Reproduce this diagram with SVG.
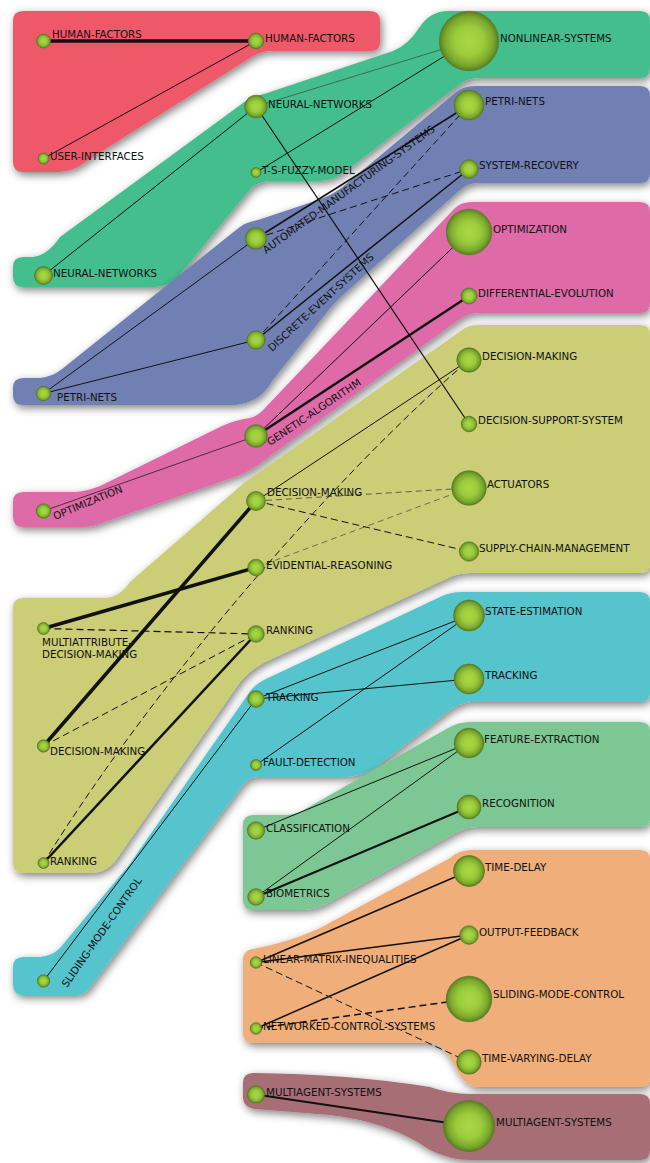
<svg xmlns="http://www.w3.org/2000/svg" width="650" height="1163" viewBox="0 0 650 1163">
<defs>
<radialGradient id="ng" cx="50%" cy="50%" r="50%">
<stop offset="0" stop-color="#A9DA45"/>
<stop offset="0.5" stop-color="#9ACB3B"/>
<stop offset="0.82" stop-color="#7BA82D"/>
<stop offset="1" stop-color="#587F22"/>
</radialGradient>
<filter id="sh" x="-10%" y="-10%" width="130%" height="130%">
<feDropShadow dx="2" dy="3" stdDeviation="4" flood-color="#000" flood-opacity="0.5"/>
</filter>
</defs>
<style>
.band{filter:url(#sh)}
.n{fill:url(#ng);stroke:#557822;stroke-width:0.7}
.t{font-family:"DejaVu Sans",Verdana,sans-serif;font-size:10.3px;fill:#111}
.e{stroke:#111;fill:none;stroke-width:1}
.d{stroke-dasharray:7,4}
.g{stroke:#444;stroke-width:0.8;stroke-dasharray:6,4}
.w35{stroke-width:3.5}
.w25{stroke-width:2.5}
.w2{stroke-width:2}
.w15{stroke-width:1.5}
.w12{stroke-width:1.2}
.w07{stroke-width:0.7}
.w06{stroke-width:0.6;stroke:#333}
</style>
<rect width="650" height="1163" fill="#fff"/>
<g id="bands">
<path id="band-red" class="band" fill="#EF5869" d="M13,21 Q13,11 23,11 H370 Q380,11 380,21 V42 Q380,51 371,51 H272 Q260,51 250,58 L88,160 Q74,172 58,172 H23 Q13,172 13,162 Z"/>
<path id="band-green" class="band" fill="#45BE8E" d="M13,267 Q13,257 23,257 H32 Q47,256 60,237 L243,103 Q252,96 264,94 L393,51 Q408,45 419,28 Q430,11 448,11 H640 Q650,11 650,21 V68 Q650,78 640,78 H478 Q468,78 460,84 L342,174 Q333,180 320,181 H268 Q255,182 247,193 L182,272 Q172,287 152,287 H23 Q13,287 13,277 Z"/>
<path id="band-blue" class="band" fill="#7080B3" d="M13,388 Q13,378 23,378 H40 Q52,377 62,369 L236,230 Q245,222 258,220 L318,200 Q333,195 345,185 L455,93 Q463,86 475,86 H640 Q650,86 650,96 V173 Q650,183 640,183 H478 Q468,183 460,190 L343,295 Q334,303 328,311 L272,381 Q260,403 235,405 H23 Q13,405 13,395 Z"/>
<path id="band-pink" class="band" fill="#DE6BA8" d="M13,502 Q13,492 23,492 H75 Q88,491 100,486 L222,426 Q235,420 250,418 Q258,416 265,408 L455,208 Q461,202 472,202 H640 Q650,202 650,212 V303 Q650,313 640,313 H478 Q468,313 460,319 L255,467 Q245,474 232,478 L105,522 Q95,527 80,527 H23 Q13,527 13,517 Z"/>
<path id="band-olive" class="band" fill="#CBCD77" d="M13,608 Q13,598 23,598 H105 Q120,597 130,582 L245,482 L465,328 Q470,325 478,325 H640 Q650,325 650,335 V563 Q650,573 640,573 H470 Q458,573 448,578 L265,662 Q250,670 240,682 L118,857 Q108,873 90,873 H23 Q13,873 13,863 Z"/>
<path id="band-cyan" class="band" fill="#55C4CC" d="M13,967 Q13,957 23,957 H40 Q52,956 60,948 L129,865 L251,690 Q258,682 268,678 L440,597 Q450,592 462,592 H640 Q650,592 650,602 V692 Q650,702 640,702 H470 Q460,703 450,710 L385,760 Q370,777 340,777 H258 Q248,777 242,786 L88,990 Q83,995 75,995 H23 Q13,995 13,985 Z"/>
<path id="band-lgreen" class="band" fill="#7DC794" d="M243,825 Q243,815 253,815 H285 Q297,815 307,808 L448,728 Q458,722 470,722 H640 Q650,722 650,732 V817 Q650,827 640,827 H478 Q467,827 457,832 L333,900 Q318,910 300,910 H253 Q243,910 243,900 Z"/>
<path id="band-orange" class="band" fill="#F0AE7A" d="M243,960 Q243,950 253,949 Q290,942 320,928 L450,858 Q459,850 472,850 H640 Q650,850 650,860 V1077 Q650,1087 640,1087 H480 Q468,1087 461,1077 L450,1058 Q442,1043 425,1043 H253 Q243,1043 243,1033 Z"/>
<path id="band-mauve" class="band" fill="#A86E76" d="M243,1083 Q243,1073 253,1073 Q350,1074 430,1087 Q450,1094 470,1094 H640 Q650,1094 650,1104 V1150 Q650,1160 640,1160 H470 Q450,1160 430,1150 Q390,1122 330,1115 L255,1109 Q243,1107 243,1097 Z"/>
</g>
<g id="connectors">
<line class="e w35" x1="43.5" y1="41" x2="256" y2="41"/>
<line class="e" x1="43.5" y1="158.5" x2="256" y2="41"/>
<line class="e" x1="43.5" y1="275.5" x2="256" y2="106.5"/>
<line class="e w06" x1="256" y1="106.5" x2="469" y2="41"/>
<line class="e" x1="256" y1="172.5" x2="469" y2="41"/>
<line class="e w12" x1="256" y1="106.5" x2="469" y2="424"/>
<line class="e" x1="43.5" y1="393.5" x2="256" y2="238.5"/>
<line class="e" x1="43.5" y1="393.5" x2="256" y2="340"/>
<line class="e w15" x1="256" y1="238.5" x2="469" y2="105"/>
<line class="e d" x1="256" y1="238.5" x2="469" y2="169"/>
<line class="e d" x1="256" y1="340" x2="469" y2="105"/>
<line class="e w15" x1="256" y1="340" x2="469" y2="169"/>
<line class="e w07" x1="43.5" y1="511" x2="256" y2="436"/>
<line class="e" x1="256" y1="436" x2="469" y2="232"/>
<line class="e w25" x1="256" y1="436" x2="469" y2="296"/>
<line class="e" x1="256" y1="501" x2="469" y2="360"/>
<line class="e g" x1="256" y1="501" x2="469" y2="488"/>
<line class="e d" x1="256" y1="501" x2="469" y2="551.5"/>
<line class="e g w07" x1="256" y1="567.5" x2="469" y2="488"/>
<path class="e d" d="M43.5,863 C150,690 330,480 469,360"/>
<line class="e w35" x1="43.5" y1="628.5" x2="256" y2="567.5"/>
<line class="e d w12" x1="43.5" y1="628.5" x2="256" y2="634"/>
<line class="e w35" x1="43.5" y1="746" x2="256" y2="501"/>
<line class="e d" x1="43.5" y1="746" x2="256" y2="634"/>
<line class="e w25" x1="43.5" y1="863" x2="256" y2="634"/>
<line class="e" x1="43.5" y1="981" x2="256" y2="699"/>
<line class="e" x1="256" y1="699" x2="469" y2="615.5"/>
<line class="e w12" x1="256" y1="699" x2="469" y2="679"/>
<line class="e" x1="256" y1="765" x2="469" y2="615.5"/>
<line class="e" x1="256" y1="830.5" x2="469" y2="743"/>
<line class="e" x1="256" y1="897" x2="469" y2="743"/>
<line class="e w2" x1="256" y1="897" x2="469" y2="807"/>
<line class="e w15" x1="256" y1="962.5" x2="469" y2="871"/>
<line class="e w15" x1="256" y1="962.5" x2="469" y2="935"/>
<line class="e d" x1="256" y1="962.5" x2="469" y2="1062"/>
<line class="e w15" x1="256" y1="1028.5" x2="469" y2="935"/>
<line class="e d w15" x1="256" y1="1028.5" x2="469" y2="999"/>
<line class="e w2" x1="256" y1="1094.5" x2="469" y2="1126"/>
</g>
<g id="n-c1-human-factors"><circle class="n" cx="43.5" cy="41" r="7"/><text class="t" x="52" y="38">HUMAN-FACTORS</text></g>
<g id="n-c1-user-interfaces"><circle class="n" cx="43.5" cy="158.5" r="5.5"/><text class="t" x="50" y="160">USER-INTERFACES</text></g>
<g id="n-c1-neural-networks"><circle class="n" cx="43.5" cy="275.5" r="9"/><text class="t" x="53" y="277">NEURAL-NETWORKS</text></g>
<g id="n-c1-petri-nets"><circle class="n" cx="43.5" cy="393.5" r="7.3"/><text class="t" x="57" y="401">PETRI-NETS</text></g>
<g id="n-c1-optimization"><circle class="n" cx="43.5" cy="511" r="7.3"/><text class="t" transform="translate(55,520) rotate(-22.5)">OPTIMIZATION</text></g>
<g id="n-c1-madm"><circle class="n" cx="43.5" cy="628.5" r="6"/><text class="t" x="42" y="646">MULTIATTRIBUTE-</text><text class="t" x="42" y="658">DECISION-MAKING</text></g>
<g id="n-c1-decision-making"><circle class="n" cx="43.5" cy="746" r="6.2"/><text class="t" x="50" y="755">DECISION-MAKING</text></g>
<g id="n-c1-ranking"><circle class="n" cx="43.5" cy="863" r="5.5"/><text class="t" x="50" y="865">RANKING</text></g>
<g id="n-c1-sliding-mode-control"><circle class="n" cx="43.5" cy="981" r="6.2"/><text class="t" transform="translate(67,988) rotate(-55)">SLIDING-MODE-CONTROL</text></g>
<g id="n-c2-human-factors"><circle class="n" cx="256" cy="41" r="7.8"/><text class="t" x="265" y="42">HUMAN-FACTORS</text></g>
<g id="n-c2-neural-networks"><circle class="n" cx="256" cy="106.5" r="11.3"/><text class="t" x="268" y="108">NEURAL-NETWORKS</text></g>
<g id="n-c2-ts-fuzzy-model"><circle class="n" cx="256" cy="172.5" r="5"/><text class="t" x="262" y="174">T-S-FUZZY-MODEL</text></g>
<g id="n-c2-ams"><circle class="n" cx="256" cy="238.5" r="10.8"/><text class="t" transform="translate(266,254) rotate(-36)">AUTOMATED-MANUFACTURING-SYSTEMS</text></g>
<g id="n-c2-des"><circle class="n" cx="256" cy="340" r="9.2"/><text class="t" transform="translate(272,352) rotate(-42.5)">DISCRETE-EVENT-SYSTEMS</text></g>
<g id="n-c2-genetic-algorithm"><circle class="n" cx="256" cy="436" r="11.3"/><text class="t" transform="translate(270,446) rotate(-34)">GENETIC-ALGORITHM</text></g>
<g id="n-c2-decision-making"><circle class="n" cx="256" cy="501" r="9.5"/><text class="t" x="267" y="496">DECISION-MAKING</text></g>
<g id="n-c2-evidential-reasoning"><circle class="n" cx="256" cy="567.5" r="8.3"/><text class="t" x="266" y="569">EVIDENTIAL-REASONING</text></g>
<g id="n-c2-ranking"><circle class="n" cx="256" cy="634" r="8.3"/><text class="t" x="266" y="634">RANKING</text></g>
<g id="n-c2-tracking"><circle class="n" cx="256" cy="699" r="8.3"/><text class="t" x="266" y="701">TRACKING</text></g>
<g id="n-c2-fault-detection"><circle class="n" cx="256" cy="765" r="5.5"/><text class="t" x="263" y="766">FAULT-DETECTION</text></g>
<g id="n-c2-classification"><circle class="n" cx="256" cy="830.5" r="8.7"/><text class="t" x="266" y="832">CLASSIFICATION</text></g>
<g id="n-c2-biometrics"><circle class="n" cx="256" cy="897" r="8.3"/><text class="t" x="266" y="897">BIOMETRICS</text></g>
<g id="n-c2-lmi"><circle class="n" cx="256" cy="962.5" r="5.8"/><text class="t" x="263" y="963">LINEAR-MATRIX-INEQUALITIES</text></g>
<g id="n-c2-ncs"><circle class="n" cx="256" cy="1028.5" r="5.8"/><text class="t" x="263" y="1030">NETWORKED-CONTROL-SYSTEMS</text></g>
<g id="n-c2-multiagent-systems"><circle class="n" cx="256" cy="1094.5" r="8.7"/><text class="t" x="266" y="1096">MULTIAGENT-SYSTEMS</text></g>
<g id="n-c3-nonlinear-systems"><circle class="n" cx="469" cy="41" r="29.7"/><text class="t" x="500" y="41.5">NONLINEAR-SYSTEMS</text></g>
<g id="n-c3-petri-nets"><circle class="n" cx="469" cy="105" r="15"/><text class="t" x="485" y="105">PETRI-NETS</text></g>
<g id="n-c3-system-recovery"><circle class="n" cx="469" cy="169" r="9.3"/><text class="t" x="479" y="169">SYSTEM-RECOVERY</text></g>
<g id="n-c3-optimization"><circle class="n" cx="469" cy="232" r="22.8"/><text class="t" x="493" y="233">OPTIMIZATION</text></g>
<g id="n-c3-differential-evolution"><circle class="n" cx="469" cy="296" r="8"/><text class="t" x="478" y="297">DIFFERENTIAL-EVOLUTION</text></g>
<g id="n-c3-decision-making"><circle class="n" cx="469" cy="360" r="12.2"/><text class="t" x="482" y="360">DECISION-MAKING</text></g>
<g id="n-c3-dss"><circle class="n" cx="469" cy="424" r="7.8"/><text class="t" x="478" y="424">DECISION-SUPPORT-SYSTEM</text></g>
<g id="n-c3-actuators"><circle class="n" cx="469" cy="488" r="17.2"/><text class="t" x="487" y="488">ACTUATORS</text></g>
<g id="n-c3-scm"><circle class="n" cx="469" cy="551.5" r="9.7"/><text class="t" x="479" y="552">SUPPLY-CHAIN-MANAGEMENT</text></g>
<g id="n-c3-state-estimation"><circle class="n" cx="469" cy="615.5" r="15.5"/><text class="t" x="485" y="615">STATE-ESTIMATION</text></g>
<g id="n-c3-tracking"><circle class="n" cx="469" cy="679" r="15"/><text class="t" x="485" y="679">TRACKING</text></g>
<g id="n-c3-feature-extraction"><circle class="n" cx="469" cy="743" r="14.8"/><text class="t" x="484" y="743">FEATURE-EXTRACTION</text></g>
<g id="n-c3-recognition"><circle class="n" cx="469" cy="807" r="12"/><text class="t" x="482" y="807">RECOGNITION</text></g>
<g id="n-c3-time-delay"><circle class="n" cx="469" cy="871" r="15.5"/><text class="t" x="485" y="871">TIME-DELAY</text></g>
<g id="n-c3-output-feedback"><circle class="n" cx="469" cy="935" r="9.3"/><text class="t" x="479" y="935.5">OUTPUT-FEEDBACK</text></g>
<g id="n-c3-sliding-mode-control"><circle class="n" cx="469" cy="999" r="22.8"/><text class="t" x="493" y="998">SLIDING-MODE-CONTROL</text></g>
<g id="n-c3-time-varying-delay"><circle class="n" cx="469" cy="1062" r="12.2"/><text class="t" x="482" y="1062">TIME-VARYING-DELAY</text></g>
<g id="n-c3-multiagent-systems"><circle class="n" cx="469" cy="1126" r="25.5"/><text class="t" x="496" y="1126">MULTIAGENT-SYSTEMS</text></g>
</svg>
